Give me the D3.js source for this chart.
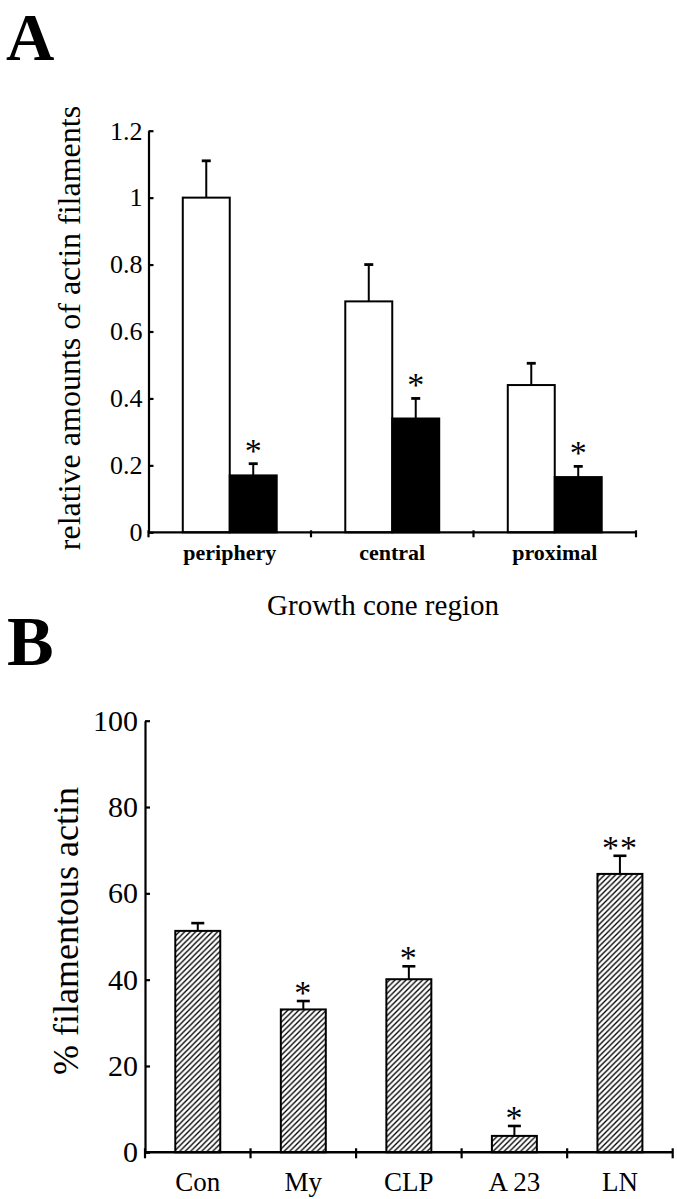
<!DOCTYPE html>
<html><head><meta charset="utf-8">
<script src="https://cdn.jsdelivr.net/npm/d3@7"></script>
<style>
html,body{margin:0;padding:0;background:#fff;}
svg{display:block;font-family:"Liberation Serif","Times New Roman",serif;}
</style></head><body>
<svg id="chart" width="677" height="1199"></svg>
<script>
// ---------- Panel A data ----------
const regionsA = ["periphery", "central", "proximal"];
const controlA = [1.0, 0.69, 0.44];
const controlErrA = [0.11, 0.11, 0.065];
const treatedA = [0.17, 0.34, 0.165];
const treatedErrA = [0.035, 0.06, 0.032];
const sigA = ["*", "*", "*"];
const yTicksA = [0, 0.2, 0.4, 0.6, 0.8, 1, 1.2];
const yTickLabelsA = ["0", "0.2", "0.4", "0.6", "0.8", "1", "1.2"];

// ---------- Panel B data ----------
const treatmentsB = ["Con", "My", "CLP", "A 23", "LN"];
const valuesB = [51.3, 33.1, 40.1, 3.8, 64.5];
const errorsB = [1.8, 1.95, 3.0, 2.3, 4.2];
const sigB = ["", "*", "*", "*", "**"];
const yTicksB = [0, 20, 40, 60, 80, 100];

const svg = d3.select("#chart");
const AX = 2.2;

// hatch pattern
const defs = svg.append("defs");
const pat = defs.append("pattern").attr("id", "hatch")
  .attr("patternUnits", "userSpaceOnUse").attr("width", 5.5).attr("height", 5.5);
pat.append("path").attr("d", "M-1,1 L1,-1 M0,5.5 L5.5,0 M4.5,6.5 L6.5,4.5")
  .attr("stroke", "#000").attr("stroke-width", 1.3);

// ================= Panel A =================
svg.append("text").attr("x", 6).attr("y", 60).attr("font-size", 67)
  .attr("font-weight", "bold").text("A");

const yA = d3.scaleLinear().domain([0, 1.2]).range([532.3, 130.7]);
const xA = d3.scaleBand().domain(regionsA).range([148.5, 636]).padding(0);
const xInA = d3.scaleBand().domain(["control", "treated"]).range([0, xA.bandwidth()])
  .paddingInner(0).paddingOuter(0.73);

const gA = svg.append("g");
const rowsA = regionsA.map((r, i) => ({
  r, ctrl: controlA[i], ctrlErr: controlErrA[i], trt: treatedA[i], trtErr: treatedErrA[i], sig: sigA[i]
}));

rowsA.forEach(d => {
  [["control", d.ctrl, d.ctrlErr], ["treated", d.trt, d.trtErr]].forEach(([k, v, e]) => {
    const cx = xA(d.r) + xInA(k) + xInA.bandwidth() / 2;
    gA.append("line").attr("x1", cx).attr("x2", cx).attr("y1", yA(v)).attr("y2", yA(v + e))
      .attr("stroke", "#000").attr("stroke-width", 2);
    gA.append("line").attr("x1", cx - 4.5).attr("x2", cx + 4.5).attr("y1", yA(v + e)).attr("y2", yA(v + e))
      .attr("stroke", "#000").attr("stroke-width", 2.8);
  });
});

gA.selectAll("rect.ctrl").data(rowsA).join("rect").attr("class", "ctrl")
  .attr("x", d => xA(d.r) + xInA("control")).attr("width", xInA.bandwidth())
  .attr("y", d => yA(d.ctrl)).attr("height", d => yA(0) - yA(d.ctrl))
  .attr("fill", "#fff").attr("stroke", "#000").attr("stroke-width", 2);
gA.selectAll("rect.trt").data(rowsA).join("rect").attr("class", "trt")
  .attr("x", d => xA(d.r) + xInA("treated")).attr("width", xInA.bandwidth())
  .attr("y", d => yA(d.trt)).attr("height", d => yA(0) - yA(d.trt))
  .attr("fill", "#000").attr("stroke", "#000").attr("stroke-width", 2);

const starFs = 34;
gA.selectAll("text.sig").data(rowsA).join("text").attr("class", "sig")
  .attr("x", d => xA(d.r) + xInA("treated") + xInA.bandwidth() / 2)
  .attr("y", d => yA(d.trt + d.trtErr) - 18 + starFs * 0.47)
  .attr("text-anchor", "middle").attr("font-size", starFs).text(d => d.sig);

const axA = d3.axisLeft(yA).tickValues(yTicksA)
  .tickFormat((d, i) => yTickLabelsA[i]).tickSizeInner(-5).tickSizeOuter(0).tickPadding(6);
const gyA = svg.append("g").attr("transform", `translate(${xA.range()[0]},0)`).call(axA);
gyA.select(".domain").attr("stroke-width", AX);
gyA.selectAll(".tick line").attr("stroke-width", AX);
gyA.selectAll(".tick text").attr("font-size", 26).attr("font-family", "Liberation Serif").attr("fill", "#000");

const bA = [...regionsA.map(r => xA(r)), xA.range()[1]];
svg.append("line").attr("x1", xA.range()[0]).attr("x2", xA.range()[1])
  .attr("y1", yA(0)).attr("y2", yA(0)).attr("stroke", "#000").attr("stroke-width", AX);
svg.selectAll("line.xtA").data(bA).join("line").attr("class", "xtA")
  .attr("x1", d => d).attr("x2", d => d).attr("y1", yA(0) - 2).attr("y2", yA(0) + 5)
  .attr("stroke", "#000").attr("stroke-width", AX);
svg.selectAll("text.catA").data(regionsA).join("text").attr("class", "catA")
  .attr("x", d => xA(d) + xA.bandwidth() / 2).attr("y", 560)
  .attr("text-anchor", "middle").attr("font-size", 22).attr("font-weight", "bold").text(d => d);

svg.append("text").attr("x", 383).attr("y", 615).attr("text-anchor", "middle")
  .attr("font-size", 29).text("Growth cone region");
svg.append("text").attr("transform", "translate(80,328) rotate(-90)")
  .attr("text-anchor", "middle").attr("font-size", 32).text("relative amounts of actin filaments");

// ================= Panel B =================
svg.append("text").attr("x", 7).attr("y", 665).attr("font-size", 70)
  .attr("font-weight", "bold").text("B");

const yB = d3.scaleLinear().domain([0, 100]).range([1152.3, 720.7]);
const xB = d3.scaleBand().domain(treatmentsB).range([145, 672.7]).padding(0);
const xBarB = d3.scaleBand().domain(treatmentsB).range([145, 672.7])
  .paddingInner(0.574).paddingOuter(0.287);

const rowsB = treatmentsB.map((t, i) => ({ t, v: valuesB[i], e: errorsB[i], s: sigB[i] }));
const gB = svg.append("g");
rowsB.forEach(d => {
  const cx = xBarB(d.t) + xBarB.bandwidth() / 2;
  gB.append("line").attr("x1", cx).attr("x2", cx).attr("y1", yB(d.v)).attr("y2", yB(d.v + d.e))
    .attr("stroke", "#000").attr("stroke-width", 2);
  gB.append("line").attr("x1", cx - 6.5).attr("x2", cx + 6.5).attr("y1", yB(d.v + d.e)).attr("y2", yB(d.v + d.e))
    .attr("stroke", "#000").attr("stroke-width", 2.6);
});
gB.selectAll("rect").data(rowsB).join("rect")
  .attr("x", d => xBarB(d.t)).attr("width", xBarB.bandwidth())
  .attr("y", d => yB(d.v)).attr("height", d => yB(0) - yB(d.v))
  .attr("fill", "url(#hatch)").attr("stroke", "#000").attr("stroke-width", 2);
gB.selectAll("text.sig").data(rowsB).join("text").attr("class", "sig")
  .attr("x", d => xBarB(d.t) + xBarB.bandwidth() / 2)
  .attr("y", d => yB(d.v + d.e) - 13 + starFs * 0.47)
  .attr("text-anchor", "middle").attr("font-size", starFs)
  .attr("letter-spacing", 1).text(d => d.s);

const axB = d3.axisLeft(yB).tickValues(yTicksB).tickFormat(d3.format("d"))
  .tickSizeInner(-5).tickSizeOuter(0).tickPadding(7);
const gyB = svg.append("g").attr("transform", `translate(${xB.range()[0]},0)`).call(axB);
gyB.select(".domain").attr("stroke-width", AX);
gyB.selectAll(".tick line").attr("stroke-width", AX);
gyB.selectAll(".tick text").attr("font-size", 30).attr("font-family", "Liberation Serif").attr("fill", "#000");

const bB = [...treatmentsB.map(t => xB(t)), xB.range()[1]];
svg.append("line").attr("x1", xB.range()[0]).attr("x2", xB.range()[1])
  .attr("y1", yB(0)).attr("y2", yB(0)).attr("stroke", "#000").attr("stroke-width", AX + 0.3);
svg.selectAll("line.xtB").data(bB).join("line").attr("class", "xtB")
  .attr("x1", d => d).attr("x2", d => d).attr("y1", yB(0) - 4).attr("y2", yB(0) + 6)
  .attr("stroke", "#000").attr("stroke-width", AX);
svg.selectAll("text.catB").data(treatmentsB).join("text").attr("class", "catB")
  .attr("x", d => xB(d) + xB.bandwidth() / 2).attr("y", 1191)
  .attr("text-anchor", "middle").attr("font-size", 27).text(d => d);

svg.append("text").attr("transform", "translate(78,931) rotate(-90)")
  .attr("text-anchor", "middle").attr("font-size", 36).text("% filamentous actin");
</script>
</body></html>
